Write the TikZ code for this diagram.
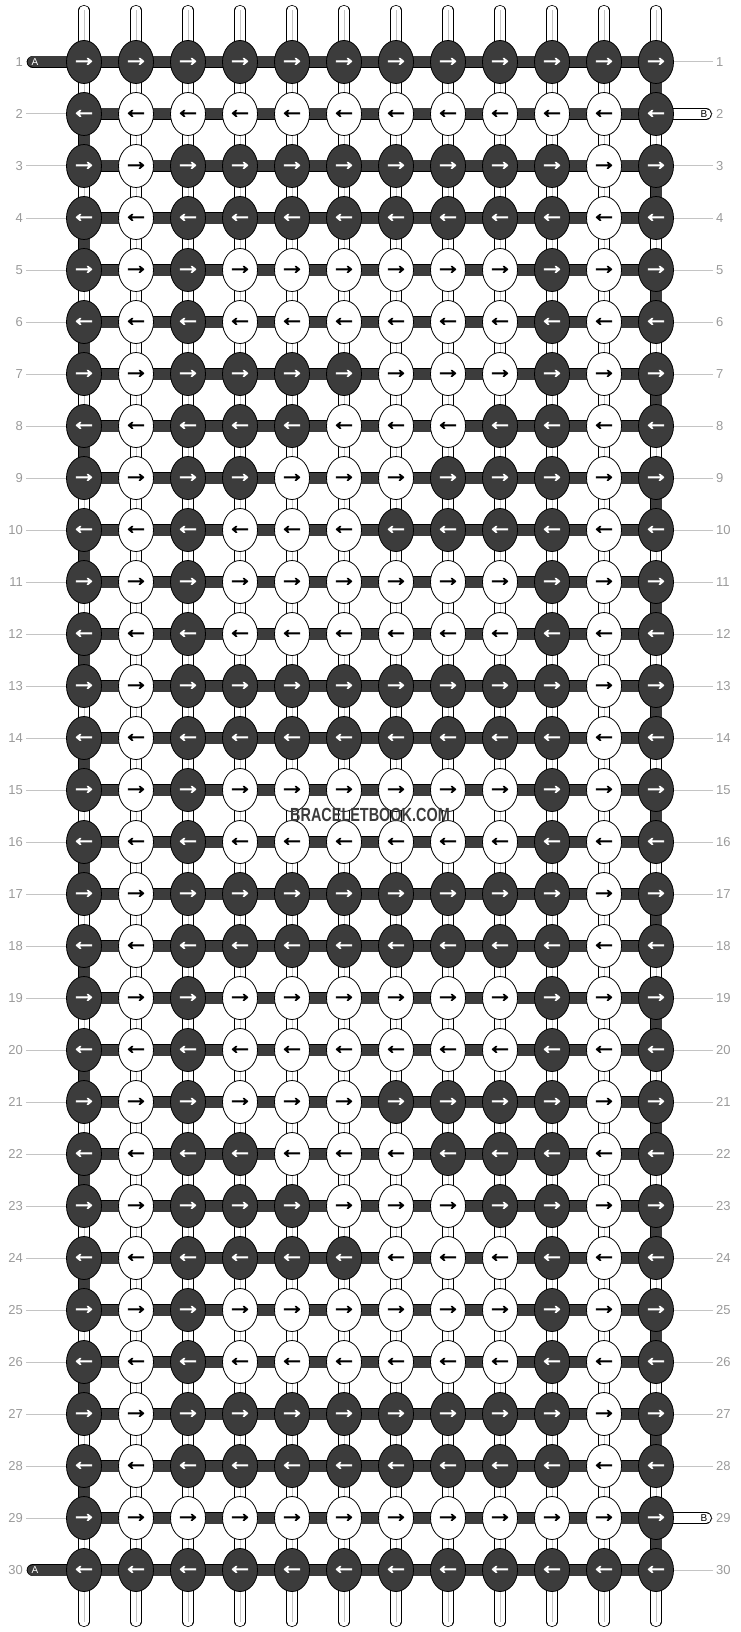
\documentclass[tikz,border=0pt]{standalone}
\usepackage{fontspec}
\setmainfont{Liberation Sans}
\newfontfamily\arrowfont{Liberation Sans Bold}[FakeBold=3]
\usetikzlibrary{shapes.geometric}
\usetikzlibrary{backgrounds}
\usetikzlibrary{positioning}

\definecolor{threaddark}{HTML}{3C3C3C}
\definecolor{rowgray}{HTML}{9A9A9A}
\definecolor{guidegray}{HTML}{C4C4C4}

\tikzset{
  knot1/.style={ellipse, draw=black, line width=0.8pt, fill=threaddark, text=white,
    minimum width=35pt, minimum height=43pt, inner sep=0pt,
    font=\arrowfont\fontsize{26}{26}\selectfont},
  knot0/.style={knot1, fill=white, text=black},
  rowlabel/.style={text=rowgray, inner sep=3pt, font=\fontsize{13}{13}\selectfont},
  guide/.style={draw=guidegray, line width=1pt},
  twine/.style={draw=black, line width=0.8pt, double=threaddark, double distance=11pt},
  twinelight/.style={draw=black, line width=0.8pt, double=white, double distance=10pt},
  stripe/.style={draw=black, line width=0.8pt, double=white, double distance=9.5pt, line cap=round},
  stripemid/.style={draw=guidegray, line width=1pt},
  endtag/.style={inner sep=0pt, font=\fontsize{10}{10}\selectfont},
}

\begin{document}
\begin{tikzpicture}[x=1pt,y=-1pt]
  \useasboundingbox (0,0) rectangle (740,1632);

  % knots, row by row (1 = dark, 0 = white)
  \foreach \r/\bits in {
     1/{1,1,1,1,1,1,1,1,1,1,1,1},
     2/{1,0,0,0,0,0,0,0,0,0,0,1},
     3/{1,0,1,1,1,1,1,1,1,1,0,1},
     4/{1,0,1,1,1,1,1,1,1,1,0,1},
     5/{1,0,1,0,0,0,0,0,0,1,0,1},
     6/{1,0,1,0,0,0,0,0,0,1,0,1},
     7/{1,0,1,1,1,1,0,0,0,1,0,1},
     8/{1,0,1,1,1,0,0,0,1,1,0,1},
     9/{1,0,1,1,0,0,0,1,1,1,0,1},
    10/{1,0,1,0,0,0,1,1,1,1,0,1},
    11/{1,0,1,0,0,0,0,0,0,1,0,1},
    12/{1,0,1,0,0,0,0,0,0,1,0,1},
    13/{1,0,1,1,1,1,1,1,1,1,0,1},
    14/{1,0,1,1,1,1,1,1,1,1,0,1},
    15/{1,0,1,0,0,0,0,0,0,1,0,1},
    16/{1,0,1,0,0,0,0,0,0,1,0,1},
    17/{1,0,1,1,1,1,1,1,1,1,0,1},
    18/{1,0,1,1,1,1,1,1,1,1,0,1},
    19/{1,0,1,0,0,0,0,0,0,1,0,1},
    20/{1,0,1,0,0,0,0,0,0,1,0,1},
    21/{1,0,1,0,0,0,1,1,1,1,0,1},
    22/{1,0,1,1,0,0,0,1,1,1,0,1},
    23/{1,0,1,1,1,0,0,0,1,1,0,1},
    24/{1,0,1,1,1,1,0,0,0,1,0,1},
    25/{1,0,1,0,0,0,0,0,0,1,0,1},
    26/{1,0,1,0,0,0,0,0,0,1,0,1},
    27/{1,0,1,1,1,1,1,1,1,1,0,1},
    28/{1,0,1,1,1,1,1,1,1,1,0,1},
    29/{1,0,0,0,0,0,0,0,0,0,0,1},
    30/{1,1,1,1,1,1,1,1,1,1,1,1}}{
    \foreach \b [count=\c] in \bits
      \node[knot\b] (k-\r-\c) at ({84+52*(\c-1)},{62+52*(\r-1)}) {\makebox[16pt]{\ifodd\r\relax →\else ←\fi}};
    \node[rowlabel, anchor=east] (ll-\r) at (26,{62+52*(\r-1)}) {\r};
    \node[rowlabel, anchor=west] (rl-\r) at (713,{62+52*(\r-1)}) {\r};
  }

  \foreach \c in {1,...,12}{
    \coordinate (top-\c) at ({84+52*(\c-1)},10.5);
    \coordinate (bot-\c) at ({84+52*(\c-1)},1621.5);
  }
  \coordinate (a-1) at (33,62);
  \coordinate (a-30) at (33,1570);
  \coordinate (b-2) at (706,114);
  \coordinate (b-29) at (706,1518);

  \begin{scope}[on background layer]
    \foreach \c in {1,...,12}{
      \draw[stripe] (top-\c) -- (bot-\c);
      \draw[stripemid] (top-\c) -- (bot-\c);
    }
    \foreach \r in {1,...,30}{
      \draw[guide] (ll-\r) -- (k-\r-1.center);
      \draw[guide] (rl-\r) -- (k-\r-12.center);
      \draw[twine] (k-\r-1.center) -- (k-\r-12.center);
    }
    % turns at the edges
    \foreach \r in {2,4,...,28}{
      \pgfmathtruncatemacro{\n}{\r+1}
      \draw[twine] (k-\r-1.center) -- (k-\n-1.center);
    }
    \foreach \r in {1,3,...,29}{
      \pgfmathtruncatemacro{\n}{\r+1}
      \draw[twine] (k-\r-12.center) -- (k-\n-12.center);
    }
    \draw[twine, line cap=round] (a-1) -- (k-1-1.center);
    \draw[twine, line cap=round] (a-30) -- (k-30-1.center);
    \draw[twinelight, line cap=round] (k-2-12.center) -- (b-2);
    \draw[twinelight, line cap=round] (k-29-12.center) -- (b-29);
  \end{scope}

  \node[endtag, text=white] (tag-a1) at (35,62) {A};
  \node[endtag, text=white] (tag-a30) at (35,1570) {A};
  \node[endtag] (tag-b2) at (704,114) {B};
  \node[endtag] (tag-b29) at (704,1518) {B};

  \node[text=threaddark, xscale=0.76, font=\bfseries\fontsize{19}{19}\selectfont] (mark) at (370,815) {BRACELETBOOK.COM};
\end{tikzpicture}
\end{document}
